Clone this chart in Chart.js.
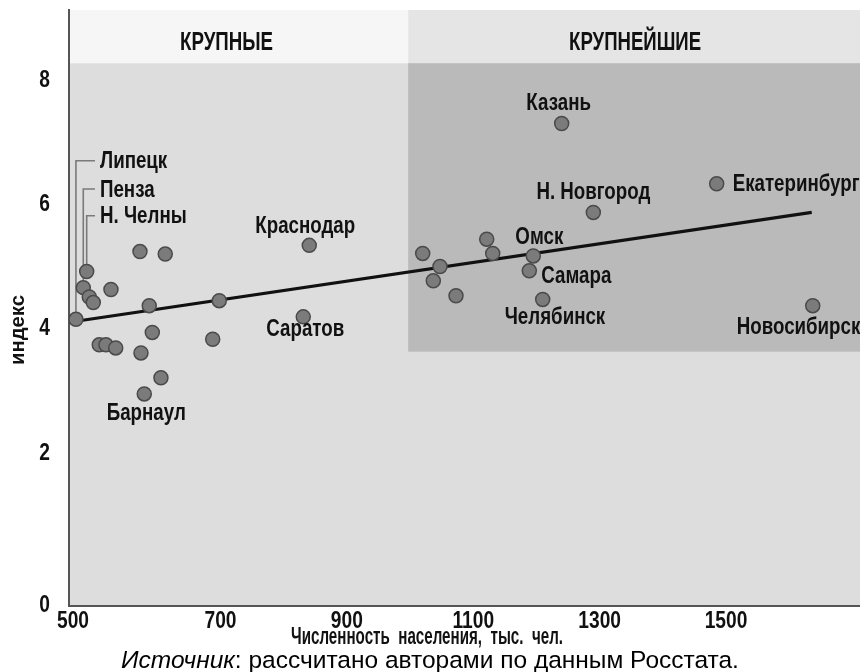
<!DOCTYPE html>
<html><head><meta charset="utf-8">
<script src="https://cdn.jsdelivr.net/npm/chart.js@4.4.1/dist/chart.umd.min.js"></script>
<style>
html,body{margin:0;padding:0;background:#fff;}
#wrap{position:relative;width:860px;height:672px;overflow:hidden;}
#src{position:absolute;left:0;width:860px;top:646px;text-align:center;font-family:'Liberation Sans',Arial,sans-serif;font-size:24.5px;line-height:28px;color:#000;}
</style></head><body>
<div id="wrap"><canvas id="c" width="860" height="672"></canvas>
<div id="src"><i>Источник</i>: рассчитано авторами по данным Росстата.</div></div>
<script>
// ---- data ----
const cities = ['Липецк','Пенза','Н. Челны','Барнаул','Краснодар','Саратов','Казань','Н. Новгород','Екатеринбург','Омск','Самара','Челябинск','Новосибирск',
  '','','','','','','','','','','','','','','','','','','',''];
const population = [471.3, 482.9, 488.3, 579.4, 840.5, 831.0, 1239.9, 1290.0, 1485.2, 1195.0, 1188.7, 1209.9, 1637.2,
  492.4, 498.7, 526.7, 587.3, 698.1, 592.1, 687.7, 508.2, 518.8, 534.2, 574.2, 605.8, 572.6, 612.6,
  1020.0, 1047.4, 1036.8, 1072.7, 1121.3, 1130.8];
const indexValues = [4.15, 4.66, 4.92, 2.95, 5.34, 4.19, 7.30, 5.87, 6.33, 5.17, 4.93, 4.47, 4.37,
  4.51, 4.42, 4.63, 4.37, 4.45, 3.94, 3.83, 3.74, 3.74, 3.69, 3.61, 3.21, 5.24, 5.20,
  5.21, 5.00, 4.77, 4.53, 5.44, 5.21];
const trendPopulation = [471.3, 1635.6];
const trendIndex = [4.12, 5.87];
const xTicks = [500, 700, 900, 1100, 1300, 1500];
const yTicks = [0, 2, 4, 6, 8];
const groupNames = ['КРУПНЫЕ', 'КРУПНЕЙШИЕ'];
const groupBreak = 997;      // population where the "крупнейшие" band starts
const headerFrom = 8.27;     // index where the header band starts
const darkBandFrom = 3.63;   // lower edge of the dark band
const xTitle = 'Численность  населения,  тыс.  чел.';
const yTitle = 'индекс';

// ---- styling ----
const FONT = '"Liberation Sans",Arial,sans-serif';
const labelPlacement = {
  'Казань': {dx:-3, dy:-20, align:'center'},
  'Н. Новгород': {dx:0, dy:-20, align:'center'},
  'Екатеринбург': {dx:16, dy:1, align:'left'},
  'Омск': {dx:6, dy:-19, align:'center'},
  'Самара': {dx:12, dy:6, align:'left'},
  'Челябинск': {dx:-38, dy:18, align:'left'},
  'Новосибирск': {dx:-76, dy:22, align:'left'},
  'Краснодар': {dx:-4, dy:-19, align:'center'},
  'Саратов': {dx:2, dy:13, align:'center'},
  'Барнаул': {dx:2, dy:19, align:'center'},
  'Липецк': {leader:true, textX:100, textY:161.7},
  'Пенза': {leader:true, textX:100, textY:190},
  'Н. Челны': {leader:true, textX:100, textY:216.7}
};

function narrowText(ctx, text, x, y, font, hscale, align, targetWidth) {
  ctx.save();
  ctx.font = font;
  ctx.textBaseline = 'middle';
  ctx.textAlign = 'left';
  const w = ctx.measureText(text).width;
  const s = targetWidth ? targetWidth / w : hscale;
  const ww = w * s;
  let x0 = x;
  if (align === 'center') x0 = x - ww / 2;
  else if (align === 'right') x0 = x - ww;
  ctx.translate(x0, y);
  ctx.scale(s, 1);
  ctx.fillText(text, 0, 0);
  ctx.restore();
}

const points = population.map((p, i) => ({x: p, y: indexValues[i]}));
const trend = trendPopulation.map((p, i) => ({x: p, y: trendIndex[i]}));

const decor = {
  id: 'decor',
  beforeDraw(chart) {
    const {ctx, chartArea: a, scales: {x, y}} = chart;
    const xb = x.getPixelForValue(groupBreak);
    const yh = y.getPixelForValue(headerFrom);
    const yd = y.getPixelForValue(darkBandFrom);
    ctx.save();
    ctx.fillStyle = '#f6f6f6'; ctx.fillRect(a.left, a.top, xb - a.left, yh - a.top);
    ctx.fillStyle = '#e5e5e5'; ctx.fillRect(xb, a.top, a.right - xb, yh - a.top);
    ctx.fillStyle = '#dddddd'; ctx.fillRect(a.left, yh, a.right - a.left, a.bottom - yh);
    ctx.fillStyle = '#bababa'; ctx.fillRect(xb, yh, a.right - xb, yd - yh);
    ctx.fillStyle = '#111';
    const hf = 'bold 25px ' + FONT;
    narrowText(ctx, groupNames[0], (a.left + xb) / 2 - 12, a.top + 33, hf, 0, 'center', 93);
    narrowText(ctx, groupNames[1], (xb + a.right) / 2 + 1, a.top + 33, hf, 0, 'center', 132);
    ctx.restore();
  },
  beforeDatasetsDraw(chart) {
    const {ctx} = chart;
    const meta = chart.getDatasetMeta(1);
    ctx.save();
    ctx.strokeStyle = '#7a7a7a'; ctx.lineWidth = 1.6;
    cities.forEach((c, i) => {
      const lp = labelPlacement[c];
      if (!lp || !lp.leader) return;
      const pt = meta.data[i];
      ctx.beginPath();
      ctx.moveTo(pt.x, pt.y);
      ctx.lineTo(pt.x, lp.textY - 1);
      ctx.lineTo(lp.textX - 5, lp.textY - 1);
      ctx.stroke();
    });
    ctx.restore();
  },
  afterDraw(chart) {
    const {ctx, chartArea: a, scales: {x, y}} = chart;
    const meta = chart.getDatasetMeta(1);
    ctx.save();
    ctx.fillStyle = '#111';
    const cf = 'bold 24px ' + FONT;
    cities.forEach((c, i) => {
      const lp = labelPlacement[c];
      if (!c || !lp) return;
      const pt = meta.data[i];
      if (lp.leader) narrowText(ctx, c, lp.textX, lp.textY, cf, 0.78, 'left');
      else narrowText(ctx, c, pt.x + lp.dx, pt.y + lp.dy, cf, 0.78, lp.align);
    });
    // tick labels from the library's scales; the origin labels sit at the axis corner
    const tf = 'bold 24px ' + FONT;
    x.ticks.forEach((t, i) => {
      const px = i === 0 ? a.left + 4 : x.getPixelForValue(t.value);
      narrowText(ctx, String(t.value), px, a.bottom + 15, tf, 0.8, 'center');
    });
    y.ticks.forEach((t, i) => {
      const py = i === 0 ? a.bottom - 1 : y.getPixelForValue(t.value);
      narrowText(ctx, String(t.value), a.left - 19, py, tf, 0.8, 'right');
    });
    // axis titles
    narrowText(ctx, xTitle, 427, 638, 'bold 23px ' + FONT, 0, 'center', 272);
    ctx.save();
    ctx.translate(18, 330);
    ctx.rotate(-Math.PI / 2);
    narrowText(ctx, yTitle, 0, 0, 'bold 21px ' + FONT, 0, 'center', 70);
    ctx.restore();
    ctx.restore();
  }
};

new Chart(document.getElementById('c'), {
  data: {
    datasets: [
      {type: 'line', data: trend, borderColor: '#111', borderWidth: 3.2, pointRadius: 0, fill: false, order: 2},
      {type: 'scatter', data: points, pointRadius: 7, pointHoverRadius: 7, backgroundColor: '#7b7b7b', borderColor: '#4a4a4a', borderWidth: 1.5, order: 1}
    ]
  },
  options: {
    responsive: false, animation: false, devicePixelRatio: 1,
    layout: {autoPadding: false, padding: {top: 10, right: 0, left: 0, bottom: 0}},
    plugins: {legend: {display: false}, tooltip: {enabled: false}},
    scales: {
      x: {
        type: 'linear', min: 460.3, max: 1712,
        grid: {display: false},
        border: {display: true, color: '#555', width: 2},
        ticks: {display: false},
        afterBuildTicks: s => { s.ticks = xTicks.map(v => ({value: v})); },
        afterFit: s => { s.height = 66; }
      },
      y: {
        type: 'linear', min: -0.461, max: 9.126,
        grid: {display: false},
        border: {display: true, color: '#555', width: 2},
        ticks: {display: false},
        afterBuildTicks: s => { s.ticks = yTicks.map(v => ({value: v})); },
        afterFit: s => { s.width = 69; }
      }
    }
  },
  plugins: [decor]
});
</script>
</body></html>
